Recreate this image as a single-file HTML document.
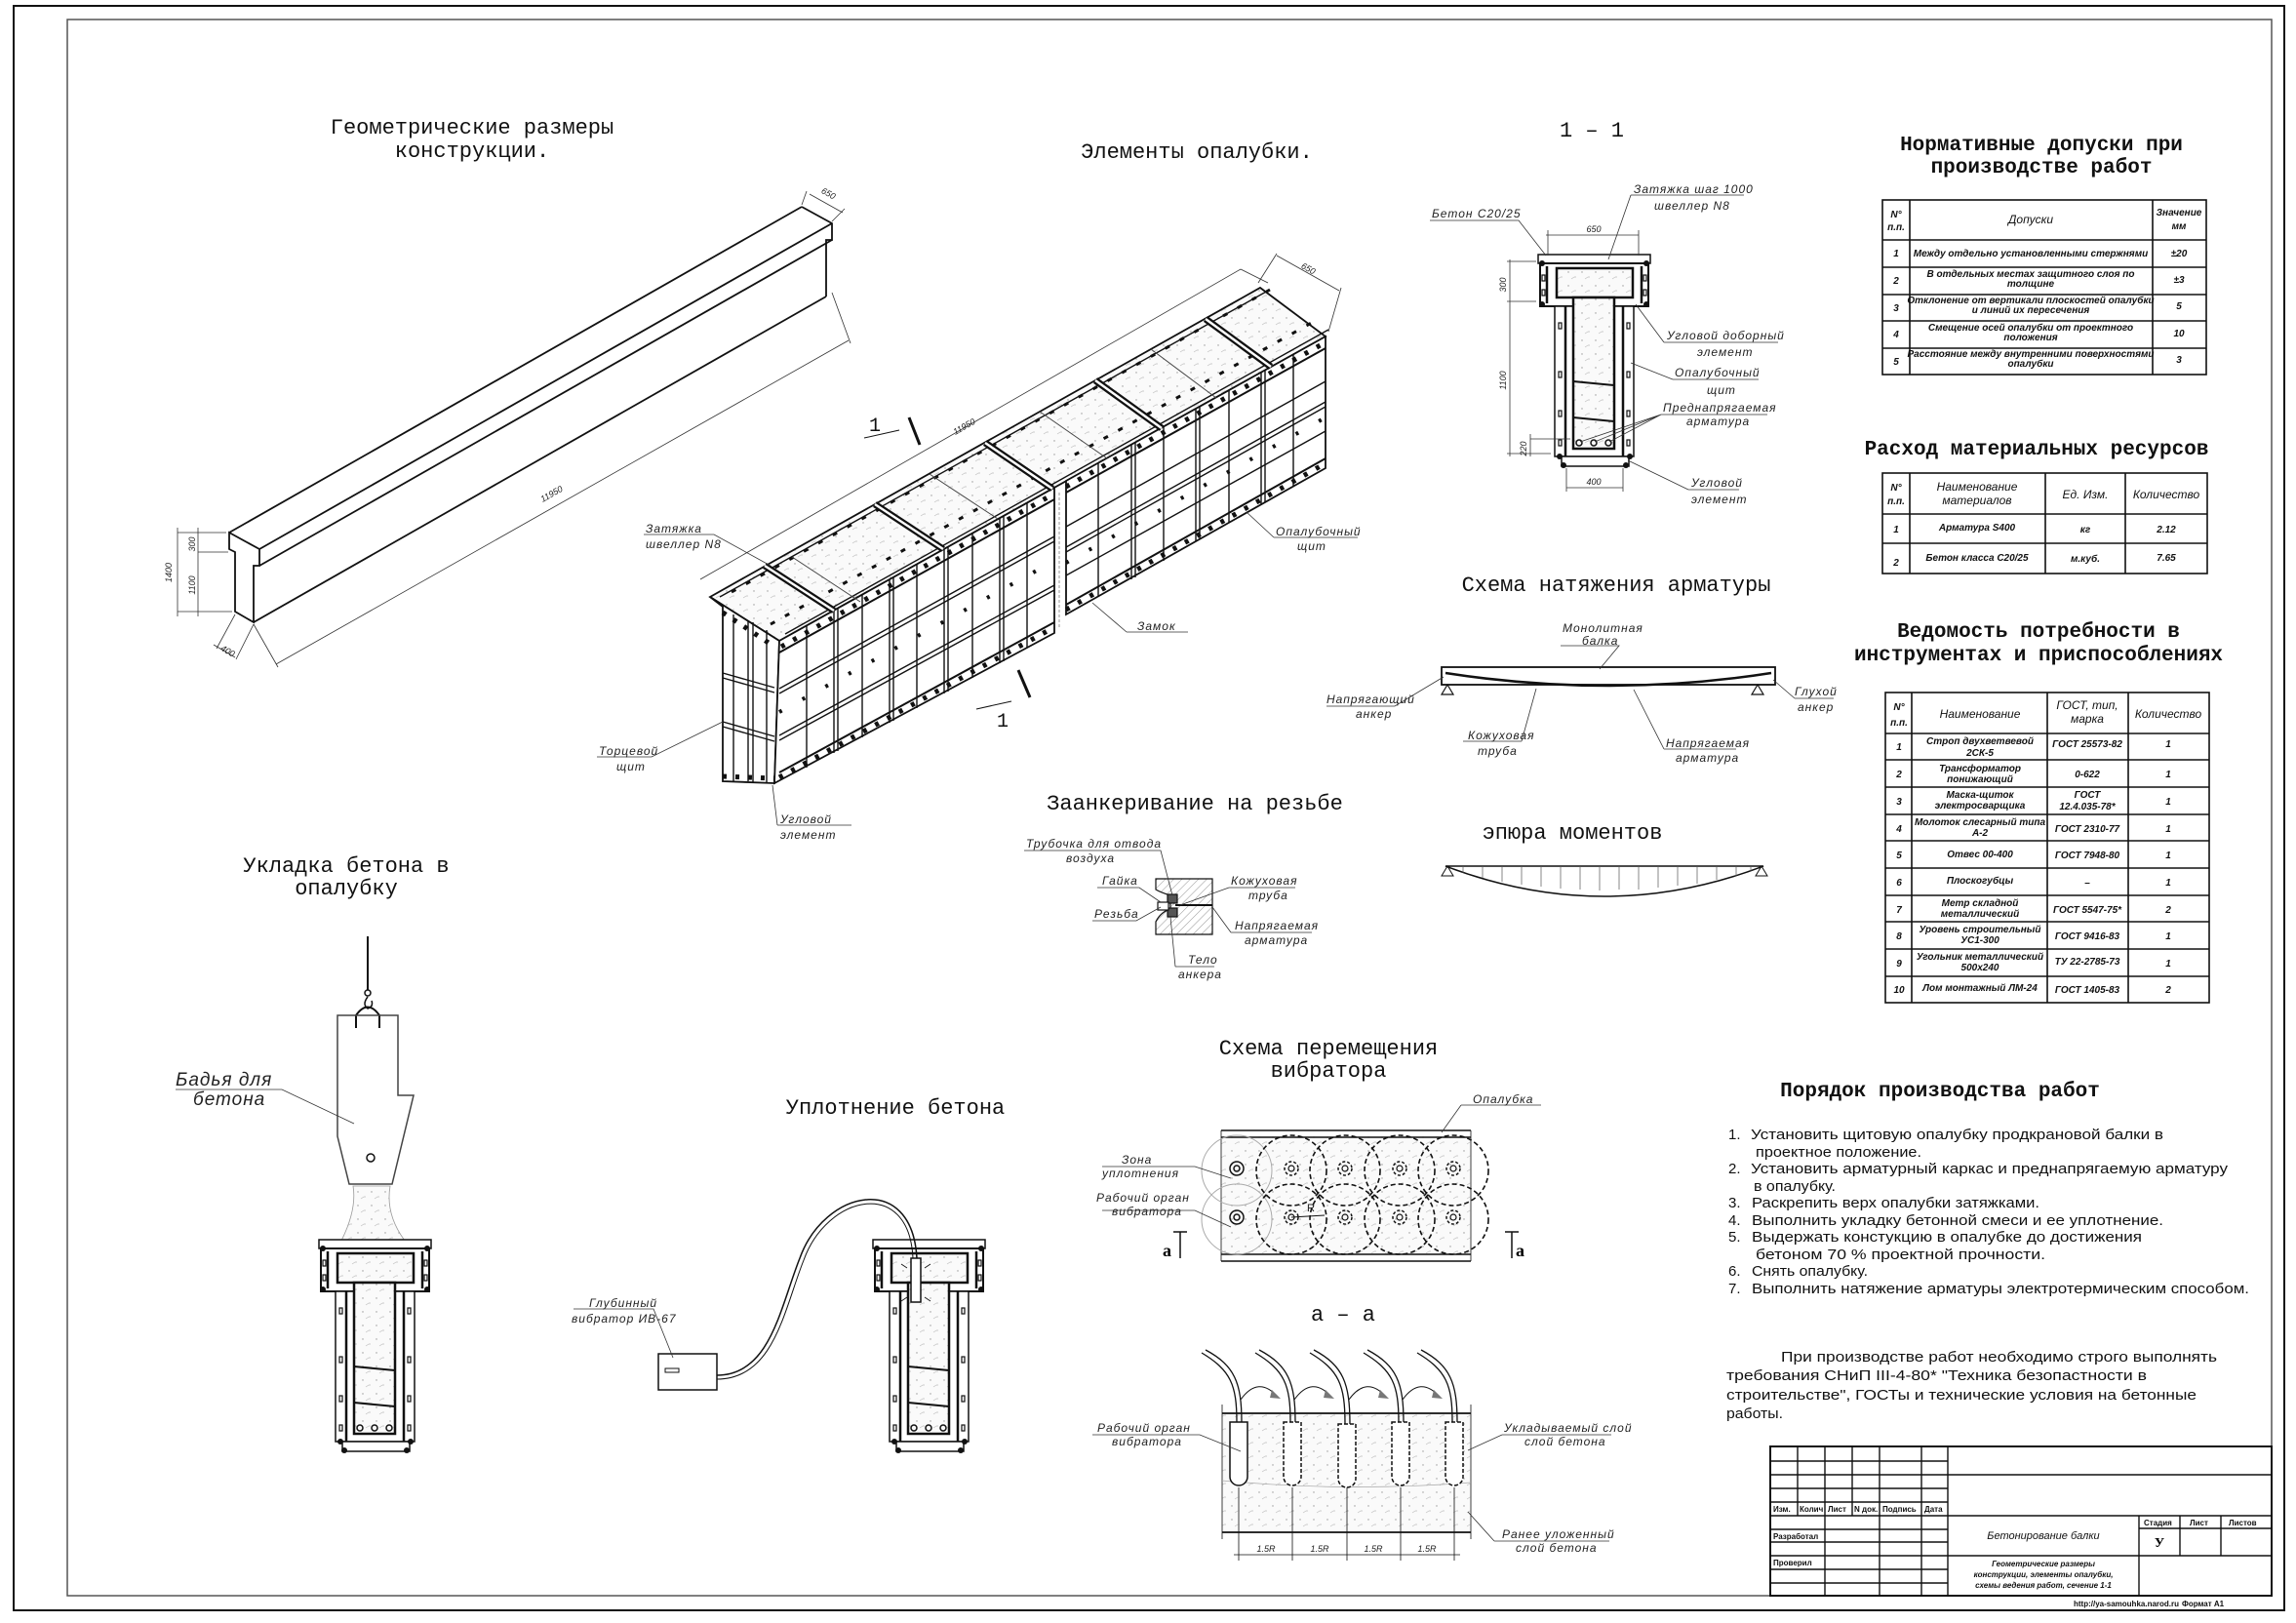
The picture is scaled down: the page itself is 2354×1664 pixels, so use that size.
<!DOCTYPE html>
<html><head><meta charset="utf-8">
<style>
html,body{margin:0;padding:0;background:#fff;}
svg{display:block;}
.t{font-family:"Liberation Mono",monospace;font-size:22px;fill:#111;text-anchor:middle;}
.b{font-family:"Liberation Mono",monospace;font-size:21px;font-weight:bold;fill:#111;text-anchor:middle;}
.l{font-family:"Liberation Sans",sans-serif;font-style:italic;font-size:12px;fill:#222;letter-spacing:1px;}
.tb{font-family:"Liberation Sans",sans-serif;font-style:italic;font-weight:bold;font-size:10px;fill:#111;text-anchor:middle;}
.tl{font-family:"Liberation Sans",sans-serif;font-style:italic;font-size:12px;fill:#111;text-anchor:middle;}
.p{font-family:"Liberation Sans",sans-serif;font-size:15px;fill:#111;}
.s{font-family:"Liberation Sans",sans-serif;font-size:8px;font-weight:bold;fill:#111;}
.d{font-family:"Liberation Sans",sans-serif;font-style:italic;font-size:9px;fill:#222;text-anchor:middle;}
</style></head>
<body>
<svg width="2354" height="1664" viewBox="0 0 2354 1664" xmlns="http://www.w3.org/2000/svg">
<defs>
<pattern id="conc" width="14" height="14" patternUnits="userSpaceOnUse">
<rect width="14" height="14" fill="#fafafa"/>
<circle cx="3" cy="4" r="0.7" fill="#999"/><circle cx="10" cy="9" r="0.6" fill="#aaa"/><path d="M6 11 l3 -2" stroke="#bbb" stroke-width="0.6"/>
</pattern>
<pattern id="hatch" width="6" height="6" patternUnits="userSpaceOnUse" patternTransform="rotate(45)">
<line x1="0" y1="0" x2="0" y2="6" stroke="#777" stroke-width="0.8"/>
</pattern>
<g id="tsec" fill="none" stroke="#111">
<rect x="0" y="0" width="115" height="9" stroke-width="1.5" fill="#fff"/>
<rect x="2" y="9" width="111" height="44" stroke-width="2" fill="#fff"/>
<rect x="19" y="14" width="78" height="30" stroke-width="2.5" fill="url(#conc)"/>
<rect x="17" y="53" width="81" height="154" stroke-width="1.5" fill="#fff"/>
<rect x="36" y="44" width="42" height="155" stroke-width="2.5" fill="url(#conc)"/>
<line x1="28" y1="53" x2="28" y2="207" stroke-width="2.5"/>
<line x1="87" y1="53" x2="87" y2="207" stroke-width="2.5"/>
<line x1="9" y1="12" x2="9" y2="50" stroke-width="2.5"/>
<line x1="106" y1="12" x2="106" y2="50" stroke-width="2.5"/>
<rect x="24" y="207" width="69" height="10" stroke-width="1.5" fill="#fff"/>
<line x1="36" y1="130" x2="78" y2="134" stroke-width="2"/>
<line x1="36" y1="167" x2="78" y2="171" stroke-width="2"/>
<g stroke-width="1.2"><rect x="4" y="21" width="3" height="6"/><rect x="4" y="36" width="3" height="6"/><rect x="108" y="21" width="3" height="6"/><rect x="108" y="36" width="3" height="6"/>
<rect x="21" y="70" width="3" height="6"/><rect x="21" y="120" width="3" height="6"/><rect x="21" y="160" width="3" height="6"/><rect x="21" y="190" width="3" height="6"/>
<rect x="91" y="70" width="3" height="6"/><rect x="91" y="120" width="3" height="6"/><rect x="91" y="160" width="3" height="6"/><rect x="91" y="190" width="3" height="6"/></g>
<g fill="#111" stroke="none"><circle cx="4" cy="9" r="3"/><circle cx="111" cy="9" r="3"/><circle cx="4" cy="51" r="3"/><circle cx="111" cy="51" r="3"/><circle cx="22" cy="207" r="3"/><circle cx="94" cy="207" r="3"/><circle cx="26" cy="216" r="3"/><circle cx="90" cy="216" r="3"/></g>
<g stroke-width="1.5"><circle cx="42" cy="193" r="3"/><circle cx="57" cy="193" r="3"/><circle cx="72" cy="193" r="3"/></g>
</g>
</defs>

<rect x="14" y="6" width="2328" height="1645" fill="none" stroke="#111" stroke-width="2"/>
<rect x="69" y="20" width="2260" height="1616" fill="none" stroke="#555" stroke-width="1.5"/>

<!-- Geometric beam -->
<text class="t" x="484" y="137">Геометрические размеры</text>
<text class="t" x="484" y="161">конструкции.</text>
<g fill="none" stroke="#111" stroke-width="1.8">
<path d="M235,546 L266,563 L266,580 L260,580 L260,638 L241,627 L241,566 L235,563 Z" fill="#fff"/>
<line x1="235" y1="546" x2="822" y2="212"/>
<line x1="266" y1="563" x2="853" y2="229"/>
<line x1="266" y1="580" x2="853" y2="246"/>
<line x1="260" y1="638" x2="847" y2="304"/>
<path d="M822,212 L853,229 L853,246 L847,246 L847,304"/>
</g>
<g stroke="#333" stroke-width="0.8" fill="none">
<line x1="182" y1="546" x2="232" y2="546"/><line x1="182" y1="627" x2="238" y2="627"/><line x1="203" y1="566" x2="234" y2="566"/>
<line x1="182" y1="541" x2="182" y2="632"/><line x1="203" y1="541" x2="203" y2="632"/>
<line x1="283" y1="681" x2="870" y2="349"/><line x1="260" y1="640" x2="285" y2="684"/><line x1="853" y1="300" x2="872" y2="352"/>
<line x1="219" y1="661" x2="241" y2="674"/><line x1="241" y1="630" x2="222" y2="665"/><line x1="260" y1="640" x2="242" y2="676"/>
<line x1="830" y1="199" x2="864" y2="218"/><line x1="822" y1="210" x2="827" y2="196"/><line x1="853" y1="227" x2="866" y2="214"/>
</g>
<text class="d" transform="translate(176,587) rotate(-90)">1400</text>
<text class="d" transform="translate(200,558) rotate(-90)">300</text>
<text class="d" transform="translate(200,600) rotate(-90)">1100</text>
<text class="d" transform="translate(232,670) rotate(30)">400</text>
<text class="d" transform="translate(567,509) rotate(-29.5)">11950</text>
<text class="d" transform="translate(848,201) rotate(29)">650</text>

<!-- Formwork iso -->
<text class="t" x="1227" y="162">Элементы опалубки.</text>
<g stroke="#111" fill="none" stroke-width="1.8">
<polygon points="728,612 1292,295 1359,345 799,657" fill="url(#conc)"/>
<polygon points="728,612 799,657 794,803 741,801 741,622" fill="#fff"/>
<polygon points="799,657 1081,500 1081,649 794,803" fill="#fff"/>
<polygon points="1093,493 1359,345 1359,480 1093,630" fill="#fff"/>
<line x1="1086" y1="505" x2="1086" y2="645" stroke="#999" stroke-width="1" stroke-dasharray="3,2"/>
</g>
<g stroke="#111" stroke-width="1.4" fill="none">
<path d="M827,642 V787 M855,626 V772 M884,610 V756 M912,594 V741 M940,579 V726 M968,563 V711 M997,547 V695 M1025,531 V680 M1053,516 V664"/>
<path d="M859,624 V770 M916,592 V739 M972,561 V709 M1029,529 V678"/>
<path d="M799,706 L1081,550 M799,711 L1081,555 M799,754 L1081,600 M799,759 L1081,605"/>
<path d="M1126,475 V612 M1160,456 V594 M1193,438 V575 M1226,419 V555 M1260,400 V536 M1293,382 V517 M1326,363 V498 M1164,454 V592 M1230,417 V553 M1297,380 V515"/>
<path d="M1093,561 L1359,412 M1093,566 L1359,417 M1093,540 L1359,391 M1093,590 L1359,442"/>
<path d="M752,630 V801 M767,636 V801 M772,638 V802 M786,646 V802 M741,690 L794,705 M741,740 L794,755 M741,695 L794,710 M741,745 L794,760"/>
<path d="M728,612 L799,657 M738,612 L1300,298 M805,650 L1362,338"/>
</g>
<!-- rim band + bolts -->
<g stroke="#111" fill="none">
<path d="M799,669 L1081,512 M1093,505 L1359,357 M799,792 L1081,638 M1093,620 L1359,470" stroke-width="2"/>
<path d="M801,663 L1081,506 M1093,499 L1359,351" stroke-width="5" stroke-dasharray="4,10"/>
<path d="M799,797 L1081,643 M1093,625 L1359,475" stroke-width="5" stroke-dasharray="4,10"/>
<path d="M799,730 L1081,575 M1093,577 L1359,428" stroke-width="4" stroke-dasharray="3,24"/>
<path d="M741,628 L794,663 M741,796 L794,798" stroke-width="5" stroke-dasharray="4,9"/>
<path d="M750,607 L1302,297 M790,640 L1350,328" stroke-width="3" stroke-dasharray="5,12"/>
<path d="M812,571 L882,617 M953,486 L1023,532 M1066,422 L1135,470 M1180,358 L1247,408" stroke-width="1" stroke="#444"/>
</g>
<g stroke="#111" stroke-width="7" fill="none">
<path d="M784,580 L855,626 M897,517 L967,563 M1010,454 L1079,501 M1123,390 L1191,439 M1236,327 L1303,376"/>
</g>
<g stroke="#fff" stroke-width="2.5" fill="none">
<path d="M784,580 L855,626 M897,517 L967,563 M1010,454 L1079,501 M1123,390 L1191,439 M1236,327 L1303,376"/>
</g>
<g stroke="#333" stroke-width="0.8" fill="none">
<line x1="718" y1="594" x2="1272" y2="276"/><line x1="1272" y1="276" x2="1300" y2="290"/>
<line x1="1309" y1="262" x2="1373" y2="298"/><line x1="1290" y1="290" x2="1309" y2="260"/><line x1="1362" y1="340" x2="1375" y2="295"/>
</g>
<text class="d" transform="translate(990,440) rotate(-29.5)">11950</text>
<text class="d" transform="translate(1340,278) rotate(29)">650</text>
<g stroke="#111" fill="none">
<line x1="886" y1="449" x2="922" y2="441" stroke-width="1"/><line x1="932" y1="428" x2="943" y2="456" stroke-width="3"/>
<line x1="1001" y1="727" x2="1037" y2="719" stroke-width="1"/><line x1="1044" y1="687" x2="1056" y2="715" stroke-width="3"/>
</g>
<text class="t" x="897" y="442" style="font-size:20px">1</text>
<text class="t" x="1028" y="745" style="font-size:20px">1</text>
<g stroke="#333" stroke-width="0.8" fill="none">
<path d="M660,548 H732 L790,580"/><path d="M1306,551 H1392 M1306,551 L1278,525"/><path d="M1155,648 H1218 M1155,648 L1120,618"/>
<path d="M612,776 H668 L741,740"/><path d="M797,846 H873 M797,846 L792,805"/>
</g>
<text class="l" x="662" y="546">Затяжка</text><text class="l" x="662" y="562">швеллер N8</text>
<text class="l" x="1308" y="549">Опалубочный</text><text class="l" x="1330" y="564">щит</text>
<text class="l" x="1166" y="646">Замок</text>
<text class="l" x="614" y="774">Торцевой</text><text class="l" x="632" y="790">щит</text>
<text class="l" x="800" y="844">Угловой</text><text class="l" x="800" y="860">элемент</text>

<!-- Section 1-1 -->
<text class="t" x="1632" y="140">1 – 1</text>
<use href="#tsec" x="1577" y="261"/>
<g stroke="#333" stroke-width="0.8" fill="none">
<line x1="1585" y1="241" x2="1680" y2="241"/><line x1="1587" y1="236" x2="1587" y2="262"/><line x1="1680" y1="236" x2="1680" y2="262"/>
<line x1="1545" y1="268" x2="1575" y2="268"/><line x1="1545" y1="309" x2="1575" y2="309"/><line x1="1545" y1="465" x2="1590" y2="465"/><line x1="1548" y1="266" x2="1548" y2="468"/>
<line x1="1569" y1="450" x2="1610" y2="450"/><line x1="1569" y1="445" x2="1569" y2="468"/>
<line x1="1606" y1="500" x2="1664" y2="500"/><line x1="1606" y1="480" x2="1606" y2="504"/><line x1="1664" y1="480" x2="1664" y2="504"/>
<path d="M1466,226 H1557 L1585,262"/><path d="M1672,200 H1788 M1672,200 L1649,266"/><path d="M1706,351 H1823 M1706,351 L1677,312"/>
<path d="M1715,389 H1803 M1715,389 L1672,372"/><path d="M1703,425 H1812 M1703,425 L1620,453 M1703,425 L1635,453 M1703,425 L1650,453"/>
<path d="M1731,502 H1783 M1731,502 L1669,472"/>
</g>
<text class="d" x="1634" y="238">650</text>
<text class="d" transform="translate(1544,292) rotate(-90)">300</text>
<text class="d" transform="translate(1544,390) rotate(-90)">1100</text>
<text class="d" transform="translate(1565,460) rotate(-90)">220</text>
<text class="d" x="1634" y="497">400</text>
<text class="l" x="1468" y="223">Бетон С20/25</text>
<text class="l" x="1675" y="198">Затяжка шаг 1000</text><text class="l" x="1696" y="215">швеллер N8</text>
<text class="l" x="1709" y="348">Угловой доборный</text><text class="l" x="1740" y="365">элемент</text>
<text class="l" x="1717" y="386">Опалубочный</text><text class="l" x="1750" y="404">щит</text>
<text class="l" x="1705" y="422">Преднапрягаемая</text><text class="l" x="1729" y="436">арматура</text>
<text class="l" x="1734" y="499">Угловой</text><text class="l" x="1734" y="516">элемент</text>

<!-- Tension scheme -->
<text class="t" x="1657" y="606">Схема натяжения арматуры</text>
<g stroke="#111" fill="none">
<rect x="1478" y="684" width="342" height="18" stroke-width="1.8" fill="#fff"/>
<path d="M1482,690 Q1650,716 1816,690" stroke-width="2.5"/>
<path d="M1484,702 l-6,10 h12 z M1802,702 l-6,10 h12 z" stroke-width="1.2"/>
</g>
<g stroke="#333" stroke-width="0.8" fill="none">
<path d="M1600,662 H1660 L1640,686"/><path d="M1360,724 H1430 L1480,694"/><path d="M1840,716 H1880 M1840,716 L1818,697"/>
<path d="M1500,760 H1560 M1560,760 L1575,706"/><path d="M1706,768 H1780 M1706,768 L1675,707"/>
</g>
<text class="l" x="1602" y="648">Монолитная</text><text class="l" x="1622" y="661">балка</text>
<text class="l" x="1360" y="721">Напрягающий</text><text class="l" x="1390" y="736">анкер</text>
<text class="l" x="1840" y="713">Глухой</text><text class="l" x="1843" y="729">анкер</text>
<text class="l" x="1505" y="758">Кожуховая</text><text class="l" x="1515" y="774">труба</text>
<text class="l" x="1708" y="766">Напрягаемая</text><text class="l" x="1718" y="781">арматура</text>

<!-- Epure -->
<text class="t" x="1612" y="860">эпюра моментов</text>
<g stroke="#111" fill="none">
<path d="M1482,888 L1808,888 Q1645,950 1482,888 Z" stroke-width="1.5"/>
<path d="M1500,888v7 M1520,888v12 M1540,888v16 M1560,888v19 M1580,888v21 M1600,888v23 M1620,888v24 M1640,888v25 M1660,888v24 M1680,888v24 M1700,888v22 M1720,888v20 M1740,888v18 M1760,888v14 M1780,888v10 M1795,888v5" stroke-width="0.7" stroke="#555"/>
<path d="M1484,888 l-6,10 h12 z M1806,888 l-6,10 h12 z" stroke-width="1"/>
</g>

<!-- Anchor -->
<text class="t" x="1225" y="830">Заанкеривание на резьбе</text>
<g stroke="#111" stroke-width="1.2">
<path d="M1185,901 H1243 V958 H1185 V945 Q1190,935 1200,932 V918 Q1190,915 1185,912 Z" fill="url(#hatch)"/>
<rect x="1197" y="917" width="10" height="9" fill="#555"/><rect x="1197" y="931" width="10" height="9" fill="#555"/>
<rect x="1187" y="925" width="11" height="8" fill="#fff"/>
<line x1="1205" y1="928" x2="1243" y2="928" stroke-width="2"/>
</g>
<g stroke="#333" stroke-width="0.8" fill="none">
<path d="M1050,872 H1190 L1202,918"/><path d="M1125,910 H1168 L1190,925"/><path d="M1120,944 H1165 L1190,930"/>
<path d="M1260,910 H1328 M1260,910 L1210,928"/><path d="M1262,956 H1345 M1262,956 L1243,930"/><path d="M1205,991 H1245 M1205,991 L1200,940"/>
</g>
<text class="l" x="1052" y="869">Трубочка для отвода</text><text class="l" x="1093" y="884">воздуха</text>
<text class="l" x="1130" y="907">Гайка</text><text class="l" x="1122" y="941">Резьба</text>
<text class="l" x="1262" y="907">Кожуховая</text><text class="l" x="1280" y="922">труба</text>
<text class="l" x="1266" y="953">Напрягаемая</text><text class="l" x="1276" y="968">арматура</text>
<text class="l" x="1218" y="988">Тело</text><text class="l" x="1208" y="1003">анкера</text>

<!-- Placing concrete -->
<text class="t" x="355" y="894">Укладка бетона в</text>
<text class="t" x="355" y="917">опалубку</text>
<g stroke="#111" fill="none" stroke-width="1.5">
<line x1="377" y1="960" x2="377" y2="1015" stroke-width="2"/>
<circle cx="377" cy="1018" r="3"/><path d="M377,1022 q-6,8 0,12 q6,-2 4,-8"/>
<path d="M365,1054 V1041 Q377,1024 389,1041 V1054" stroke-width="2"/>
<path d="M346,1041 H408 V1123 H424 L402,1214 H358 L346,1165 Z" stroke="#444"/>
<circle cx="380" cy="1187" r="4"/>
<path d="M362,1216 Q366,1240 350,1272 L415,1272 Q395,1245 400,1216 Z" fill="url(#conc)" stroke="#999" stroke-width="0.8"/>
</g>
<use href="#tsec" x="327" y="1271"/>
<path d="M180,1117 H289 L363,1152" stroke="#333" stroke-width="0.8" fill="none"/>
<text class="l" x="180" y="1113" style="font-size:19px">Бадья для</text>
<text class="l" x="198" y="1133" style="font-size:19px">бетона</text>

<!-- Compaction -->
<text class="t" x="918" y="1142">Уплотнение бетона</text>
<use href="#tsec" x="895" y="1271"/>
<g stroke="#111" fill="none">
<rect x="675" y="1388" width="60" height="37" stroke-width="1.5" fill="#fff"/>
<rect x="682" y="1403" width="14" height="4" stroke-width="1"/>
<path d="M735,1410 C790,1410 800,1340 820,1290 C845,1220 935,1200 940,1290" stroke-width="1.5"/>
<path d="M735,1414 C794,1414 804,1342 824,1292 C848,1225 932,1206 936,1290" stroke-width="1"/>
<rect x="934" y="1290" width="10" height="45" stroke-width="1.5" fill="#fff"/>
<path d="M930,1300 l-6,-4 M948,1300 l6,-4 M930,1315 l-8,0 M948,1315 l8,0 M930,1330 l-6,4 M948,1330 l6,4" stroke-width="0.8"/>
</g>
<path d="M588,1342 H670 L690,1392" stroke="#333" stroke-width="0.8" fill="none"/>
<text class="l" x="604" y="1340">Глубинный</text><text class="l" x="586" y="1356">вибратор ИВ-67</text>

<!-- Vibrator plan -->
<text class="t" x="1362" y="1081">Схема перемещения</text>
<text class="t" x="1362" y="1104">вибратора</text>
<g stroke="#111" fill="none">
<rect x="1252" y="1164" width="256" height="124" fill="url(#conc)" stroke="none"/>
<path d="M1252,1159 H1508 M1252,1166 H1508 M1252,1286 H1508 M1252,1293 H1508" stroke-width="1.5"/>
<path d="M1252,1159 V1293 M1508,1159 V1293" stroke-width="0.8"/>
<g stroke="#aaa" stroke-width="1"><circle cx="1268" cy="1200" r="36"/><circle cx="1268" cy="1250" r="36"/></g>
<g stroke-dasharray="5,3" stroke-width="1.6">
<circle cx="1324" cy="1200" r="36"/><circle cx="1379" cy="1200" r="36"/><circle cx="1435" cy="1200" r="36"/><circle cx="1490" cy="1200" r="36"/>
<circle cx="1324" cy="1250" r="36"/><circle cx="1379" cy="1250" r="36"/><circle cx="1435" cy="1250" r="36"/><circle cx="1490" cy="1250" r="36"/>
</g>
<g stroke-width="1.5">
<circle cx="1268" cy="1198" r="7"/><circle cx="1268" cy="1198" r="3"/><circle cx="1268" cy="1248" r="7"/><circle cx="1268" cy="1248" r="3"/>
</g>
<g stroke-width="1.5" stroke-dasharray="3,2">
<circle cx="1324" cy="1198" r="7"/><circle cx="1379" cy="1198" r="7"/><circle cx="1435" cy="1198" r="7"/><circle cx="1490" cy="1198" r="7"/>
<circle cx="1324" cy="1248" r="7"/><circle cx="1379" cy="1248" r="7"/><circle cx="1435" cy="1248" r="7"/><circle cx="1490" cy="1248" r="7"/>
</g>
<g fill="none" stroke-width="1.2"><circle cx="1324" cy="1198" r="3"/><circle cx="1379" cy="1198" r="3"/><circle cx="1435" cy="1198" r="3"/><circle cx="1490" cy="1198" r="3"/>
<circle cx="1324" cy="1248" r="3"/><circle cx="1379" cy="1248" r="3"/><circle cx="1435" cy="1248" r="3"/><circle cx="1490" cy="1248" r="3"/></g>
<path d="M1324,1248 L1358,1246" stroke-width="1"/>
<path d="M1210,1263 V1290 M1203,1263 H1217 M1550,1263 V1290 M1543,1263 H1557" stroke-width="1.5"/>
</g>
<g stroke="#333" stroke-width="0.8" fill="none">
<path d="M1498,1133 H1580 M1498,1133 L1478,1161"/><path d="M1130,1196 H1225 L1262,1208"/><path d="M1130,1241 H1225 L1262,1258"/>
</g>
<text class="d" x="1344" y="1242" style="font-size:11px;font-style:normal">R</text>
<text class="l" x="1510" y="1131">Опалубка</text>
<text class="l" x="1150" y="1193">Зона</text><text class="l" x="1130" y="1207">уплотнения</text>
<text class="l" x="1124" y="1232">Рабочий орган</text><text class="l" x="1140" y="1246">вибратора</text>
<text x="1192" y="1288" style="font-family:'Liberation Serif',serif;font-weight:bold;font-size:18px">a</text>
<text x="1554" y="1288" style="font-family:'Liberation Serif',serif;font-weight:bold;font-size:18px">a</text>

<!-- a-a -->
<text class="t" x="1377" y="1354">а – а</text>
<g stroke="#111" fill="none">
<rect x="1253" y="1449" width="255" height="122" fill="url(#conc)" stroke="none"/>
<path d="M1253,1449 H1508 M1253,1571 H1508" stroke-width="1.8"/>
<path d="M1253,1440 V1578 M1508,1440 V1578" stroke-width="0.8"/>
<path d="M1253,1518 Q1380,1530 1508,1520" stroke="#aaa" stroke-width="0.8"/>
<path d="M1261,1458 h18 v56 a9,9 0 0 1 -18,0 z" fill="#fff" stroke-width="1.5"/>
<g stroke-width="1.5" stroke-dasharray="4,2" fill="#fff">
<path d="M1316,1458 h18 v56 a9,9 0 0 1 -18,0 z"/><path d="M1372,1460 h18 v56 a9,9 0 0 1 -18,0 z"/><path d="M1427,1458 h18 v56 a9,9 0 0 1 -18,0 z"/><path d="M1482,1458 h18 v56 a9,9 0 0 1 -18,0 z"/>
</g>
<g stroke-width="1.3">
<path d="M1268,1458 C1268,1420 1262,1405 1232,1387 M1273,1458 C1273,1418 1266,1400 1236,1384"/>
<path d="M1323,1458 C1323,1420 1317,1405 1287,1387 M1328,1458 C1328,1418 1321,1400 1291,1384"/>
<path d="M1379,1460 C1379,1420 1373,1405 1343,1387 M1384,1460 C1384,1418 1377,1400 1347,1384"/>
<path d="M1434,1458 C1434,1420 1428,1405 1398,1387 M1439,1458 C1439,1418 1432,1400 1402,1384"/>
<path d="M1489,1458 C1489,1420 1483,1405 1453,1387 M1494,1458 C1494,1418 1487,1400 1457,1384"/>
<path d="M1272,1435 Q1290,1410 1310,1432 M1327,1435 Q1345,1410 1365,1432 M1383,1435 Q1401,1410 1421,1432 M1438,1435 Q1456,1410 1476,1432" stroke-width="1"/>
</g>
<g fill="#777" stroke="none"><path d="M1304,1425 l9,9 l-11,-1z M1359,1425 l9,9 l-11,-1z M1415,1425 l9,9 l-11,-1z M1470,1425 l9,9 l-11,-1z"/></g>
<path d="M1270,1525 V1600 M1325,1525 V1600 M1381,1525 V1600 M1436,1525 V1600 M1491,1525 V1600 M1265,1594 H1497" stroke-width="0.8"/>
</g>
<text class="d" x="1298" y="1591">1.5R</text><text class="d" x="1353" y="1591">1.5R</text><text class="d" x="1408" y="1591">1.5R</text><text class="d" x="1463" y="1591">1.5R</text>
<g stroke="#333" stroke-width="0.8" fill="none">
<path d="M1120,1471 H1230 L1272,1488"/><path d="M1540,1471 H1652 M1540,1471 L1505,1487"/><path d="M1532,1580 H1650 M1532,1580 L1505,1550"/>
</g>
<text class="l" x="1125" y="1468">Рабочий орган</text><text class="l" x="1140" y="1482">вибратора</text>
<text class="l" x="1542" y="1468">Укладываемый слой</text><text class="l" x="1563" y="1482">слой бетона</text>
<text class="l" x="1540" y="1577">Ранее уложенный</text><text class="l" x="1554" y="1591">слой бетона</text>

<!-- Table 1 -->
<text class="b" x="2093" y="154">Нормативные допуски при</text>
<text class="b" x="2093" y="177">производстве работ</text>
<g stroke="#111" stroke-width="1.6" fill="none">
<rect x="1930" y="205" width="332" height="179"/>
<path d="M1958,205 V384 M2207,205 V384 M1930,246 H2262 M1930,274 H2262 M1930,302 H2262 M1930,329 H2262 M1930,357 H2262"/>
</g>
<text class="tb" x="1944" y="223">N°</text><text class="tb" x="1944" y="236">п.п.</text>
<text class="tl" x="2082" y="229">Допуски</text>
<text class="tb" x="2234" y="221">Значение</text><text class="tb" x="2234" y="235">мм</text>
<text class="tb" x="1944" y="263">1</text><text class="tb" x="2082" y="263">Между отдельно установленными стержнями</text><text class="tb" x="2234" y="263">±20</text>
<text class="tb" x="1944" y="291">2</text><text class="tb" x="2082" y="284">В отдельных местах защитного слоя по</text><text class="tb" x="2082" y="294">толщине</text><text class="tb" x="2234" y="290">±3</text>
<text class="tb" x="1944" y="319">3</text><text class="tb" x="2082" y="311">Отклонение от вертикали плоскостей опалубки</text><text class="tb" x="2082" y="321">и линий их пересечения</text><text class="tb" x="2234" y="317">5</text>
<text class="tb" x="1944" y="346">4</text><text class="tb" x="2082" y="339">Смещение осей опалубки от проектного</text><text class="tb" x="2082" y="349">положения</text><text class="tb" x="2234" y="345">10</text>
<text class="tb" x="1944" y="374">5</text><text class="tb" x="2082" y="366">Расстояние между внутренними поверхностями</text><text class="tb" x="2082" y="376">опалубки</text><text class="tb" x="2234" y="372">3</text>

<!-- Table 2 -->
<text class="b" x="2088" y="466">Расход материальных ресурсов</text>
<g stroke="#111" stroke-width="1.6" fill="none">
<rect x="1930" y="485" width="333" height="103"/>
<path d="M1958,485 V588 M2097,485 V588 M2179,485 V588 M1930,527 H2263 M1930,557 H2263"/>
</g>
<text class="tb" x="1944" y="503">N°</text><text class="tb" x="1944" y="517">п.п.</text>
<text class="tl" x="2027" y="503">Наименование</text><text class="tl" x="2027" y="517">материалов</text>
<text class="tl" x="2138" y="511">Ед. Изм.</text><text class="tl" x="2221" y="511">Количество</text>
<text class="tb" x="1944" y="546">1</text><text class="tb" x="2027" y="544">Арматура S400</text><text class="tb" x="2138" y="546">кг</text><text class="tb" x="2221" y="546">2.12</text>
<text class="tb" x="1944" y="580">2</text><text class="tb" x="2027" y="575">Бетон класса С20/25</text><text class="tb" x="2138" y="576">м.куб.</text><text class="tb" x="2221" y="575">7.65</text>

<!-- Table 3 -->
<text class="b" x="2090" y="653">Ведомость потребности в</text>
<text class="b" x="2090" y="677">инструментах и приспособлениях</text>
<g stroke="#111" stroke-width="1.6" fill="none">
<rect x="1933" y="710" width="332" height="318"/>
<path d="M1960,710 V1028 M2099,710 V1028 M2182,710 V1028"/>
<path d="M1933,752 H2265 M1933,779 H2265 M1933,807 H2265 M1933,835 H2265 M1933,862 H2265 M1933,890 H2265 M1933,918 H2265 M1933,945 H2265 M1933,973 H2265 M1933,1001 H2265"/>
</g>
<text class="tb" x="1947" y="728">N°</text><text class="tb" x="1947" y="744">п.п.</text>
<text class="tl" x="2030" y="736">Наименование</text>
<text class="tl" x="2140" y="727">ГОСТ, тип,</text><text class="tl" x="2140" y="741">марка</text>
<text class="tl" x="2223" y="736">Количество</text>
<text class="tb" x="1947" y="769">1</text><text class="tb" x="2030" y="763">Строп двухветвевой</text><text class="tb" x="2030" y="775">2СК-5</text><text class="tb" x="2140" y="766">ГОСТ 25573-82</text><text class="tb" x="2223" y="766">1</text>
<text class="tb" x="1947" y="797">2</text><text class="tb" x="2030" y="791">Трансформатор</text><text class="tb" x="2030" y="802">понижающий</text><text class="tb" x="2140" y="797">0-622</text><text class="tb" x="2223" y="797">1</text>
<text class="tb" x="1947" y="825">3</text><text class="tb" x="2030" y="818">Маска-щиток</text><text class="tb" x="2030" y="829">электросварщика</text><text class="tb" x="2140" y="818">ГОСТ</text><text class="tb" x="2140" y="830">12.4.035-78*</text><text class="tb" x="2223" y="825">1</text>
<text class="tb" x="1947" y="853">4</text><text class="tb" x="2030" y="846">Молоток слесарный типа</text><text class="tb" x="2030" y="857">А-2</text><text class="tb" x="2140" y="853">ГОСТ 2310-77</text><text class="tb" x="2223" y="853">1</text>
<text class="tb" x="1947" y="880">5</text><text class="tb" x="2030" y="879">Отвес 00-400</text><text class="tb" x="2140" y="880">ГОСТ 7948-80</text><text class="tb" x="2223" y="880">1</text>
<text class="tb" x="1947" y="908">6</text><text class="tb" x="2030" y="906">Плоскогубцы</text><text class="tb" x="2140" y="908">–</text><text class="tb" x="2223" y="908">1</text>
<text class="tb" x="1947" y="936">7</text><text class="tb" x="2030" y="929">Метр складной</text><text class="tb" x="2030" y="940">металлический</text><text class="tb" x="2140" y="936">ГОСТ 5547-75*</text><text class="tb" x="2223" y="936">2</text>
<text class="tb" x="1947" y="963">8</text><text class="tb" x="2030" y="956">Уровень строительный</text><text class="tb" x="2030" y="967">УС1-300</text><text class="tb" x="2140" y="963">ГОСТ 9416-83</text><text class="tb" x="2223" y="963">1</text>
<text class="tb" x="1947" y="991">9</text><text class="tb" x="2030" y="984">Угольник металлический</text><text class="tb" x="2030" y="995">500x240</text><text class="tb" x="2140" y="989">ТУ 22-2785-73</text><text class="tb" x="2223" y="991">1</text>
<text class="tb" x="1947" y="1018">10</text><text class="tb" x="2030" y="1016">Лом монтажный ЛМ-24</text><text class="tb" x="2140" y="1018">ГОСТ 1405-83</text><text class="tb" x="2223" y="1018">2</text>

<!-- Procedure -->
<text class="b" x="1989" y="1124">Порядок производства работ</text>
<text class="p" x="1772" y="1168">1.</text><text class="p" x="1795" y="1168" textLength="423" lengthAdjust="spacingAndGlyphs">Установить щитовую опалубку продкрановой балки в</text>
<text class="p" x="1800" y="1186" textLength="170" lengthAdjust="spacingAndGlyphs">проектное положение.</text>
<text class="p" x="1772" y="1203">2.</text><text class="p" x="1795" y="1203" textLength="489" lengthAdjust="spacingAndGlyphs">Установить арматурный каркас и преднапрягаемую арматуру</text>
<text class="p" x="1798" y="1221" textLength="84" lengthAdjust="spacingAndGlyphs">в опалубку.</text>
<text class="p" x="1772" y="1238">3.</text><text class="p" x="1796" y="1238" textLength="295" lengthAdjust="spacingAndGlyphs">Раскрепить верх опалубки затяжками.</text>
<text class="p" x="1772" y="1256">4.</text><text class="p" x="1796" y="1256" textLength="422" lengthAdjust="spacingAndGlyphs">Выполнить укладку бетонной смеси и ее уплотнение.</text>
<text class="p" x="1772" y="1273">5.</text><text class="p" x="1796" y="1273" textLength="400" lengthAdjust="spacingAndGlyphs">Выдержать констукцию в опалубке до достижения</text>
<text class="p" x="1800" y="1291" textLength="297" lengthAdjust="spacingAndGlyphs">бетоном 70 % проектной прочности.</text>
<text class="p" x="1772" y="1308">6.</text><text class="p" x="1796" y="1308" textLength="119" lengthAdjust="spacingAndGlyphs">Снять опалубку.</text>
<text class="p" x="1772" y="1326">7.</text><text class="p" x="1796" y="1326" textLength="510" lengthAdjust="spacingAndGlyphs">Выполнить натяжение арматуры электротермическим способом.</text>
<text class="p" x="1826" y="1396" textLength="447" lengthAdjust="spacingAndGlyphs">При производстве работ необходимо строго выполнять</text>
<text class="p" x="1770" y="1415" textLength="431" lengthAdjust="spacingAndGlyphs">требования СНиП III-4-80* "Техника безопастности в</text>
<text class="p" x="1770" y="1435" textLength="482" lengthAdjust="spacingAndGlyphs">строительстве", ГОСТы и технические условия на бетонные</text>
<text class="p" x="1770" y="1454" textLength="58" lengthAdjust="spacingAndGlyphs">работы.</text>

<!-- Title block -->
<g stroke="#111" stroke-width="1.4" fill="none">
<rect x="1815" y="1483" width="514" height="153" stroke-width="2"/>
<path d="M1843,1483 V1554 M1871,1483 V1554 M1899,1483 V1554 M1927,1483 V1636 M1970,1483 V1636 M1997,1483 V1636 M1871,1554 V1636"/>
<path d="M1815,1498 H1997 M1815,1512 H1997 M1815,1526 H1997 M1815,1540 H1997 M1815,1554 H2329 M1815,1568 H1997 M1815,1581 H1997 M1815,1595 H2329 M1815,1609 H1997 M1815,1623 H1997"/>
<path d="M1997,1512 H2329 M2193,1554 V1636 M2235,1554 V1595 M2277,1554 V1595 M2193,1567 H2329"/>
</g>
<text class="s" x="1818" y="1550">Изм.</text><text class="s" x="1845" y="1550">Колич</text><text class="s" x="1874" y="1550">Лист</text><text class="s" x="1901" y="1550">N док.</text><text class="s" x="1930" y="1550">Подпись</text><text class="s" x="1973" y="1550">Дата</text>
<text class="s" x="1818" y="1578">Разработал</text><text class="s" x="1818" y="1605">Проверил</text>
<text class="s" x="2198" y="1564">Стадия</text><text class="s" x="2245" y="1564">Лист</text><text class="s" x="2285" y="1564">Листов</text>
<text class="tl" x="2095" y="1578" style="font-size:11px">Бетонирование балки</text>
<text x="2214" y="1586" style="font-family:'Liberation Serif',serif;font-weight:bold;font-size:14px;text-anchor:middle">У</text>
<text class="tb" x="2095" y="1606" style="font-size:8px">Геометрические размеры</text>
<text class="tb" x="2095" y="1617" style="font-size:8px">конструкции, элементы опалубки,</text>
<text class="tb" x="2095" y="1628" style="font-size:8px">схемы ведения работ, сечение 1-1</text>
<text class="s" x="2126" y="1647">http://ya-samouhka.narod.ru</text>
<text class="s" x="2237" y="1647">Формат А1</text>
</svg>
</body></html>
